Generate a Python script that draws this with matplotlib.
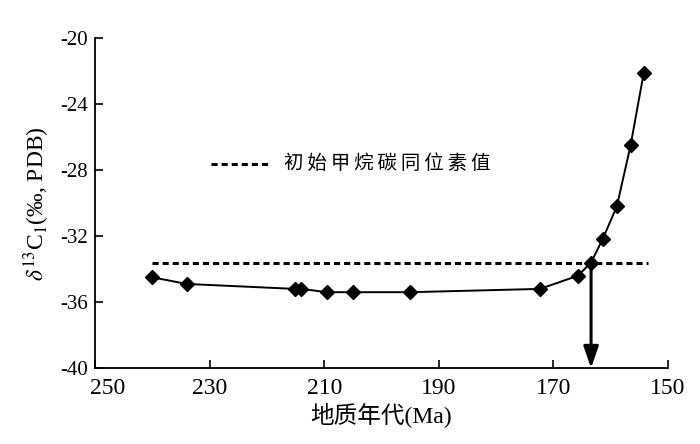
import matplotlib.pyplot as plt
import matplotlib.transforms as mtransforms
import numpy as np

plt.rcParams['font.family'] = ['Liberation Serif', 'Noto Sans CJK SC']
plt.rcParams['mathtext.fontset'] = 'stix'
plt.rcParams['axes.unicode_minus'] = False

# 地质年代 (Ma) 与 δ13C1 数据
edad = [240, 234, 215.1, 214, 209.5, 205, 195, 172.3, 165.7, 163.4, 161.4, 158.9, 156.5, 154.2]
d13c = [-34.5, -34.9, -35.2, -35.2, -35.4, -35.4, -35.4, -35.2, -34.4, -33.6, -32.2, -30.2, -26.5, -22.1]

# 初始甲烷碳同位素值
valor_inicial = -33.6
inicio_linea = 240
fin_linea = 153.5
edad_cruce = 163.4

punteado = (0, (2.0, 1.3))

fig = plt.figure(figsize=(7, 4.44), dpi=100)
ax = fig.add_axes([0.136, 0.171, 0.818, 0.743])

ax.plot(edad, d13c, color='black', linewidth=1.4, marker='D', markersize=7.5)
ax.plot([inicio_linea, fin_linea], [valor_inicial, valor_inicial], color='black',
        linewidth=2.2, linestyle=punteado)

# flecha vertical hacia el eje
ax.annotate('', xy=(edad_cruce, -40), xytext=(edad_cruce, valor_inicial),
            arrowprops=dict(arrowstyle='-|>,head_width=0.45,head_length=1.3',
                            color='black', linewidth=2.2, shrinkA=0, shrinkB=0))

# leyenda
ax.plot([229.8, 219.3], [-27.6, -27.6], color='black', linewidth=2.2, linestyle=punteado)
ax.text(217, -27.6, '\u2009'.join('初始甲烷碳同位素值'), fontsize=14, va='center', ha='left',
        family=['Noto Sans CJK SC', 'DejaVu Sans'])

ax.set_xlim(250, 150)
ax.set_ylim(-40, -20)
ax.set_xticks([250, 230, 210, 190, 170, 150])
ax.set_yticks([-40, -36, -32, -28, -24, -20])
ax.tick_params(direction='in', length=6, width=1.2)
ax.tick_params(axis='y', labelsize=15, pad=5)
ax.tick_params(axis='x', labelsize=17, pad=7)
for s in ['top', 'right']:
    ax.spines[s].set_visible(False)
for s in ['left', 'bottom']:
    ax.spines[s].set_linewidth(1.3)

# la etiqueta 250 desplazada a la derecha como en el original
etq = ax.get_xticklabels()[0]
etq.set_transform(etq.get_transform() + mtransforms.ScaledTranslation(12 / 100, 0, fig.dpi_scale_trans))

ax.set_xlabel('地质年代(Ma)', fontsize=17, labelpad=2)
ax.set_ylabel(r'$\delta^{13}$C$_1$(‰, PDB)', fontsize=17, labelpad=6)

plt.savefig('out.png', dpi=100)
